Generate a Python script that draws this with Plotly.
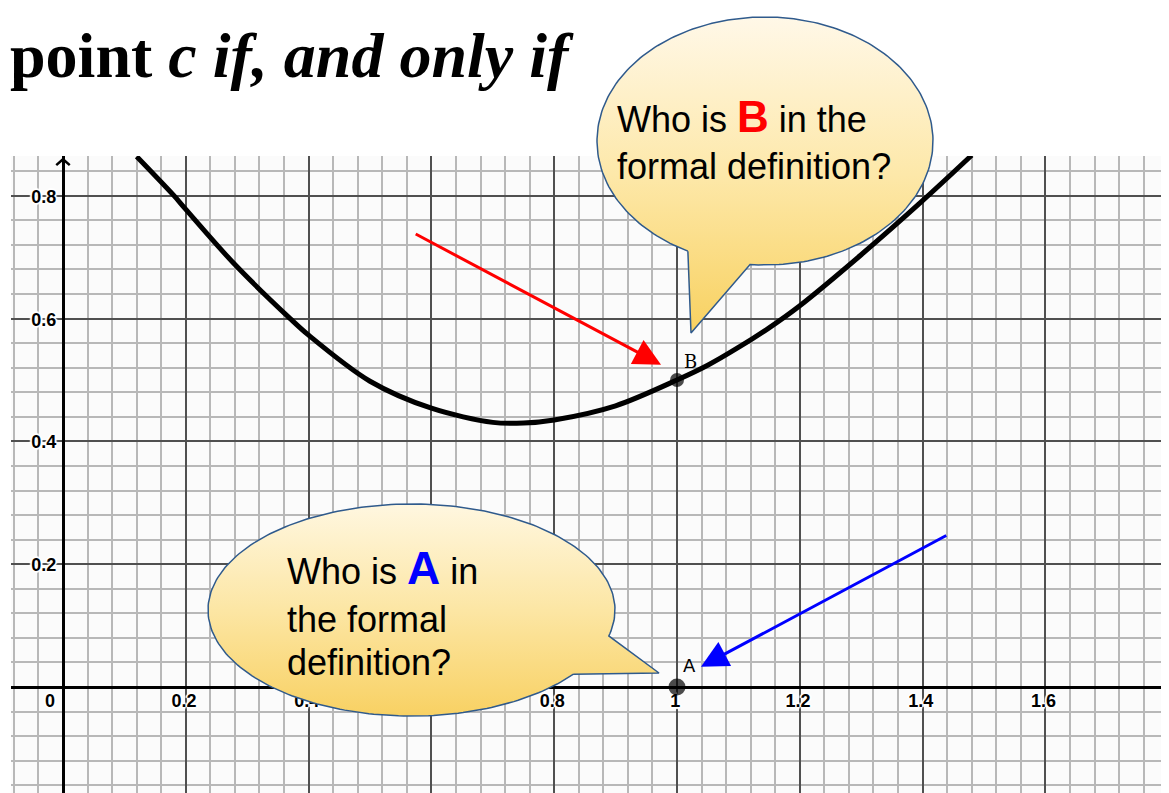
import numpy as np
import plotly.graph_objects as go

W, H = 1169, 793
OFF = 8  # page body margin of the written html
FW, FH = W - OFF, H - OFF

# ---------------- data ----------------
curve_x = [0.12, 0.18, 0.20, 0.28, 0.37, 0.40, 0.50, 0.60, 0.70, 0.75, 0.80,
           0.90, 1.00, 1.05, 1.10, 1.15, 1.20, 1.30, 1.40, 1.48]
curve_y = [0.864, 0.801, 0.778, 0.688, 0.600, 0.573, 0.498, 0.454, 0.431, 0.430,
           0.435, 0.458, 0.500, 0.524, 0.553, 0.585, 0.621, 0.704, 0.792, 0.866]

point_names = ["B", "A"]
point_x = [1.0, 1.0]
point_y = [0.5, 0.0]

x_tick_vals = [0, 0.2, 0.4, 0.6, 0.8, 1, 1.2, 1.4, 1.6]
x_tick_text = ["0", "0.2", "0.4", "0.6", "0.8", "1", "1.2", "1.4", "1.6"]
y_tick_vals = [0.2, 0.4, 0.6, 0.8]
y_tick_text = ["0.2", "0.4", "0.6", "0.8"]

title_text = "<b>point <i>c if, and only if</i></b>"
bubble_b_lines = ["Who is <b><span style='color:#ff0000;font-size:44px'>B</span></b> in the",
                  "formal definition?"]
bubble_a_lines = ["Who is <b><span style='color:#0000ff;font-size:46px'>A</span></b> in",
                  "the formal", "definition?"]

# ---------------- pixel calibration of the grid (page pixels) ----------------
X0_PX, Y0_PX, UNIT = 63.0, 687.0, 614.0
GRID_LEFT, GRID_TOP = 11.0, 156.0
x_range = [(GRID_LEFT - X0_PX) / UNIT, (W - X0_PX) / UNIT]
y_range = [(Y0_PX - H) / UNIT, (Y0_PX - GRID_TOP) / UNIT]


def px(p):
    return (p - OFF) / FW


def py(p):
    return 1 - (p - OFF) / FH


fig = go.Figure()

# main grid background
fig.add_shape(type="rect", xref="paper", yref="paper",
              x0=px(GRID_LEFT), x1=1, y0=0, y1=py(GRID_TOP),
              fillcolor="#fbfbfb", line_width=0, layer="below")

# curve
fig.add_trace(go.Scatter(x=curve_x, y=curve_y, mode="lines",
                         line=dict(color="black", width=5, shape="spline", smoothing=0.9),
                         hoverinfo="skip", showlegend=False))

# y-axis arrow chevron
fig.add_trace(go.Scatter(x=[-0.011, 0, 0.011], y=[0.850, 0.8595, 0.850], mode="lines",
                         line=dict(color="black", width=2.5), hoverinfo="skip",
                         showlegend=False, cliponaxis=False))

# tick labels drawn inside the plot
shadow = ("white 1px 0px 0px, white -1px 0px 0px, white 0px 1px 0px, white 0px -1px 0px, "
          "white 2px 0px 1px, white -2px 0px 1px, white 0px 2px 1px, white 0px -2px 1px")
x_lab_x = [(-0.021 if v == 0 else v - 0.003) for v in x_tick_vals]
fig.add_trace(go.Scatter(x=x_lab_x, y=[-0.026] * len(x_tick_vals), mode="text",
                         text=x_tick_text, textposition="middle center",
                         textfont=dict(family="Liberation Sans, Arial", size=18,
                                       color="#000000", weight="bold", shadow=shadow),
                         hoverinfo="skip", showlegend=False))
fig.add_trace(go.Scatter(x=[-0.011] * len(y_tick_vals), y=[v - 0.004 for v in y_tick_vals],
                         mode="text", text=y_tick_text, textposition="middle left",
                         textfont=dict(family="Liberation Sans, Arial", size=18,
                                       color="#000000", weight="bold", shadow=shadow),
                         hoverinfo="skip", showlegend=False))

# points
fig.add_trace(go.Scatter(x=point_x, y=point_y, mode="markers",
                         marker=dict(color="black", size=[14, 17], line=dict(width=0)),
                         hoverinfo="skip", showlegend=False, cliponaxis=False))


# ---------------- speech bubbles (overlay subplot in page pixels) ----------------
def ang(cx, cy, rx, ry, x, y):
    return np.arctan2((y - cy) / ry, (x - cx) / rx)


def bubble_path(cx, cy, rx, ry, base_a, base_b, tip, n=240):
    """Ellipse arc from base_a the long way round to base_b, then out to the tip."""
    ta = ang(cx, cy, rx, ry, *base_a)
    tb = ang(cx, cy, rx, ry, *base_b)
    while tb < ta:
        tb += 2 * np.pi
    if tb - ta < np.pi:
        tb += 2 * np.pi
    t = np.linspace(ta, tb, n)
    xs = list(cx + rx * np.cos(t)) + [tip[0]]
    ys = list(cy + ry * np.sin(t)) + [tip[1]]
    xs.append(xs[0])
    ys.append(ys[0])
    return xs, ys


# bubble B
xs, ys = bubble_path(765, 141, 168, 124, (688, 251), (750, 265), (691, 333))
fig.add_trace(go.Scatter(x=xs, y=ys, xaxis="x2", yaxis="y2", mode="lines", fill="toself",
                         line=dict(color="#2f5a8c", width=1.5),
                         fillgradient=dict(type="vertical", start=17, stop=333,
                                           colorscale=[[0, "#fff8e8"], [0.5, "#fde8a9"], [1, "#f8d160"]]),
                         hoverinfo="skip", showlegend=False))

# bubble A
xs, ys = bubble_path(411.5, 610, 203.5, 106, (573, 674), (609, 636), (659, 673))
fig.add_trace(go.Scatter(x=xs, y=ys, xaxis="x2", yaxis="y2", mode="lines", fill="toself",
                         line=dict(color="#2f5a8c", width=1.5),
                         fillgradient=dict(type="vertical", start=504, stop=716,
                                           colorscale=[[0, "#fff7e0"], [0.5, "#fce6a4"], [1, "#f8d163"]]),
                         hoverinfo="skip", showlegend=False))

annotations = []
# title
annotations.append(dict(xref="paper", yref="paper", x=px(8), y=py(56),
                        xanchor="left", yanchor="middle", showarrow=False,
                        text=title_text,
                        font=dict(family="Liberation Serif, Times New Roman", size=64, color="black")))
# bubble texts
for txt, yy in zip(bubble_b_lines, [116, 166]):
    annotations.append(dict(xref="x2", yref="y2", x=615, y=yy, xanchor="left", yanchor="middle",
                            showarrow=False, text=txt,
                            font=dict(family="Liberation Sans, Arial", size=36, color="black")))
for txt, yy in zip(bubble_a_lines, [568, 619, 662]):
    annotations.append(dict(xref="x2", yref="y2", x=285, y=yy, xanchor="left", yanchor="middle",
                            showarrow=False, text=txt,
                            font=dict(family="Liberation Sans, Arial", size=36, color="black")))
# point labels
annotations.append(dict(x=point_x[0], y=point_y[0], xref="x", yref="y", text=point_names[0],
                        showarrow=False, xshift=13, yshift=19,
                        font=dict(family="DejaVu Serif", size=18, color="black")))
annotations.append(dict(x=point_x[1], y=point_y[1], xref="x", yref="y", text=point_names[1],
                        showarrow=False, xshift=12, yshift=22,
                        font=dict(family="DejaVu Sans", size=18, color="black")))
# arrows
annotations.append(dict(x=0.974, y=0.525, ax=0.572, ay=0.739, xref="x", yref="y",
                        axref="x", ayref="y", text="", showarrow=True, arrowhead=2,
                        arrowsize=1.8, arrowwidth=3, arrowcolor="#ff0000", standoff=0))
annotations.append(dict(x=1.039, y=0.033, ax=1.441, ay=0.248, xref="x", yref="y",
                        axref="x", ayref="y", text="", showarrow=True, arrowhead=2,
                        arrowsize=1.8, arrowwidth=3, arrowcolor="#0000ff", standoff=0))

fig.update_layout(
    width=FW, height=FH, margin=dict(l=0, r=0, t=0, b=0),
    paper_bgcolor="white", plot_bgcolor="rgba(0,0,0,0)",
    showlegend=False, annotations=annotations,
    xaxis=dict(domain=[px(GRID_LEFT), 1], range=x_range, anchor="y",
               tick0=0, dtick=0.2, showgrid=True, gridcolor="#505050", gridwidth=1.5,
               minor=dict(tick0=0, dtick=0.04, showgrid=True, gridcolor="#b8b8b8", gridwidth=1.5),
               zeroline=True, zerolinecolor="black", zerolinewidth=2.5,
               showticklabels=False, ticks="", showline=False, fixedrange=True),
    yaxis=dict(domain=[0, py(GRID_TOP)], range=y_range, anchor="x",
               tick0=0, dtick=0.2, showgrid=True, gridcolor="#505050", gridwidth=1.5,
               minor=dict(tick0=0, dtick=0.04, showgrid=True, gridcolor="#b8b8b8", gridwidth=1.5),
               zeroline=True, zerolinecolor="black", zerolinewidth=3,
               showticklabels=False, ticks="", showline=False, fixedrange=True),
    xaxis2=dict(domain=[0, 1], range=[OFF, W], anchor="y2", visible=False, fixedrange=True),
    yaxis2=dict(domain=[0, 1], range=[H, OFF], anchor="x2", visible=False, fixedrange=True),
)

fig.write_html("out.html")
